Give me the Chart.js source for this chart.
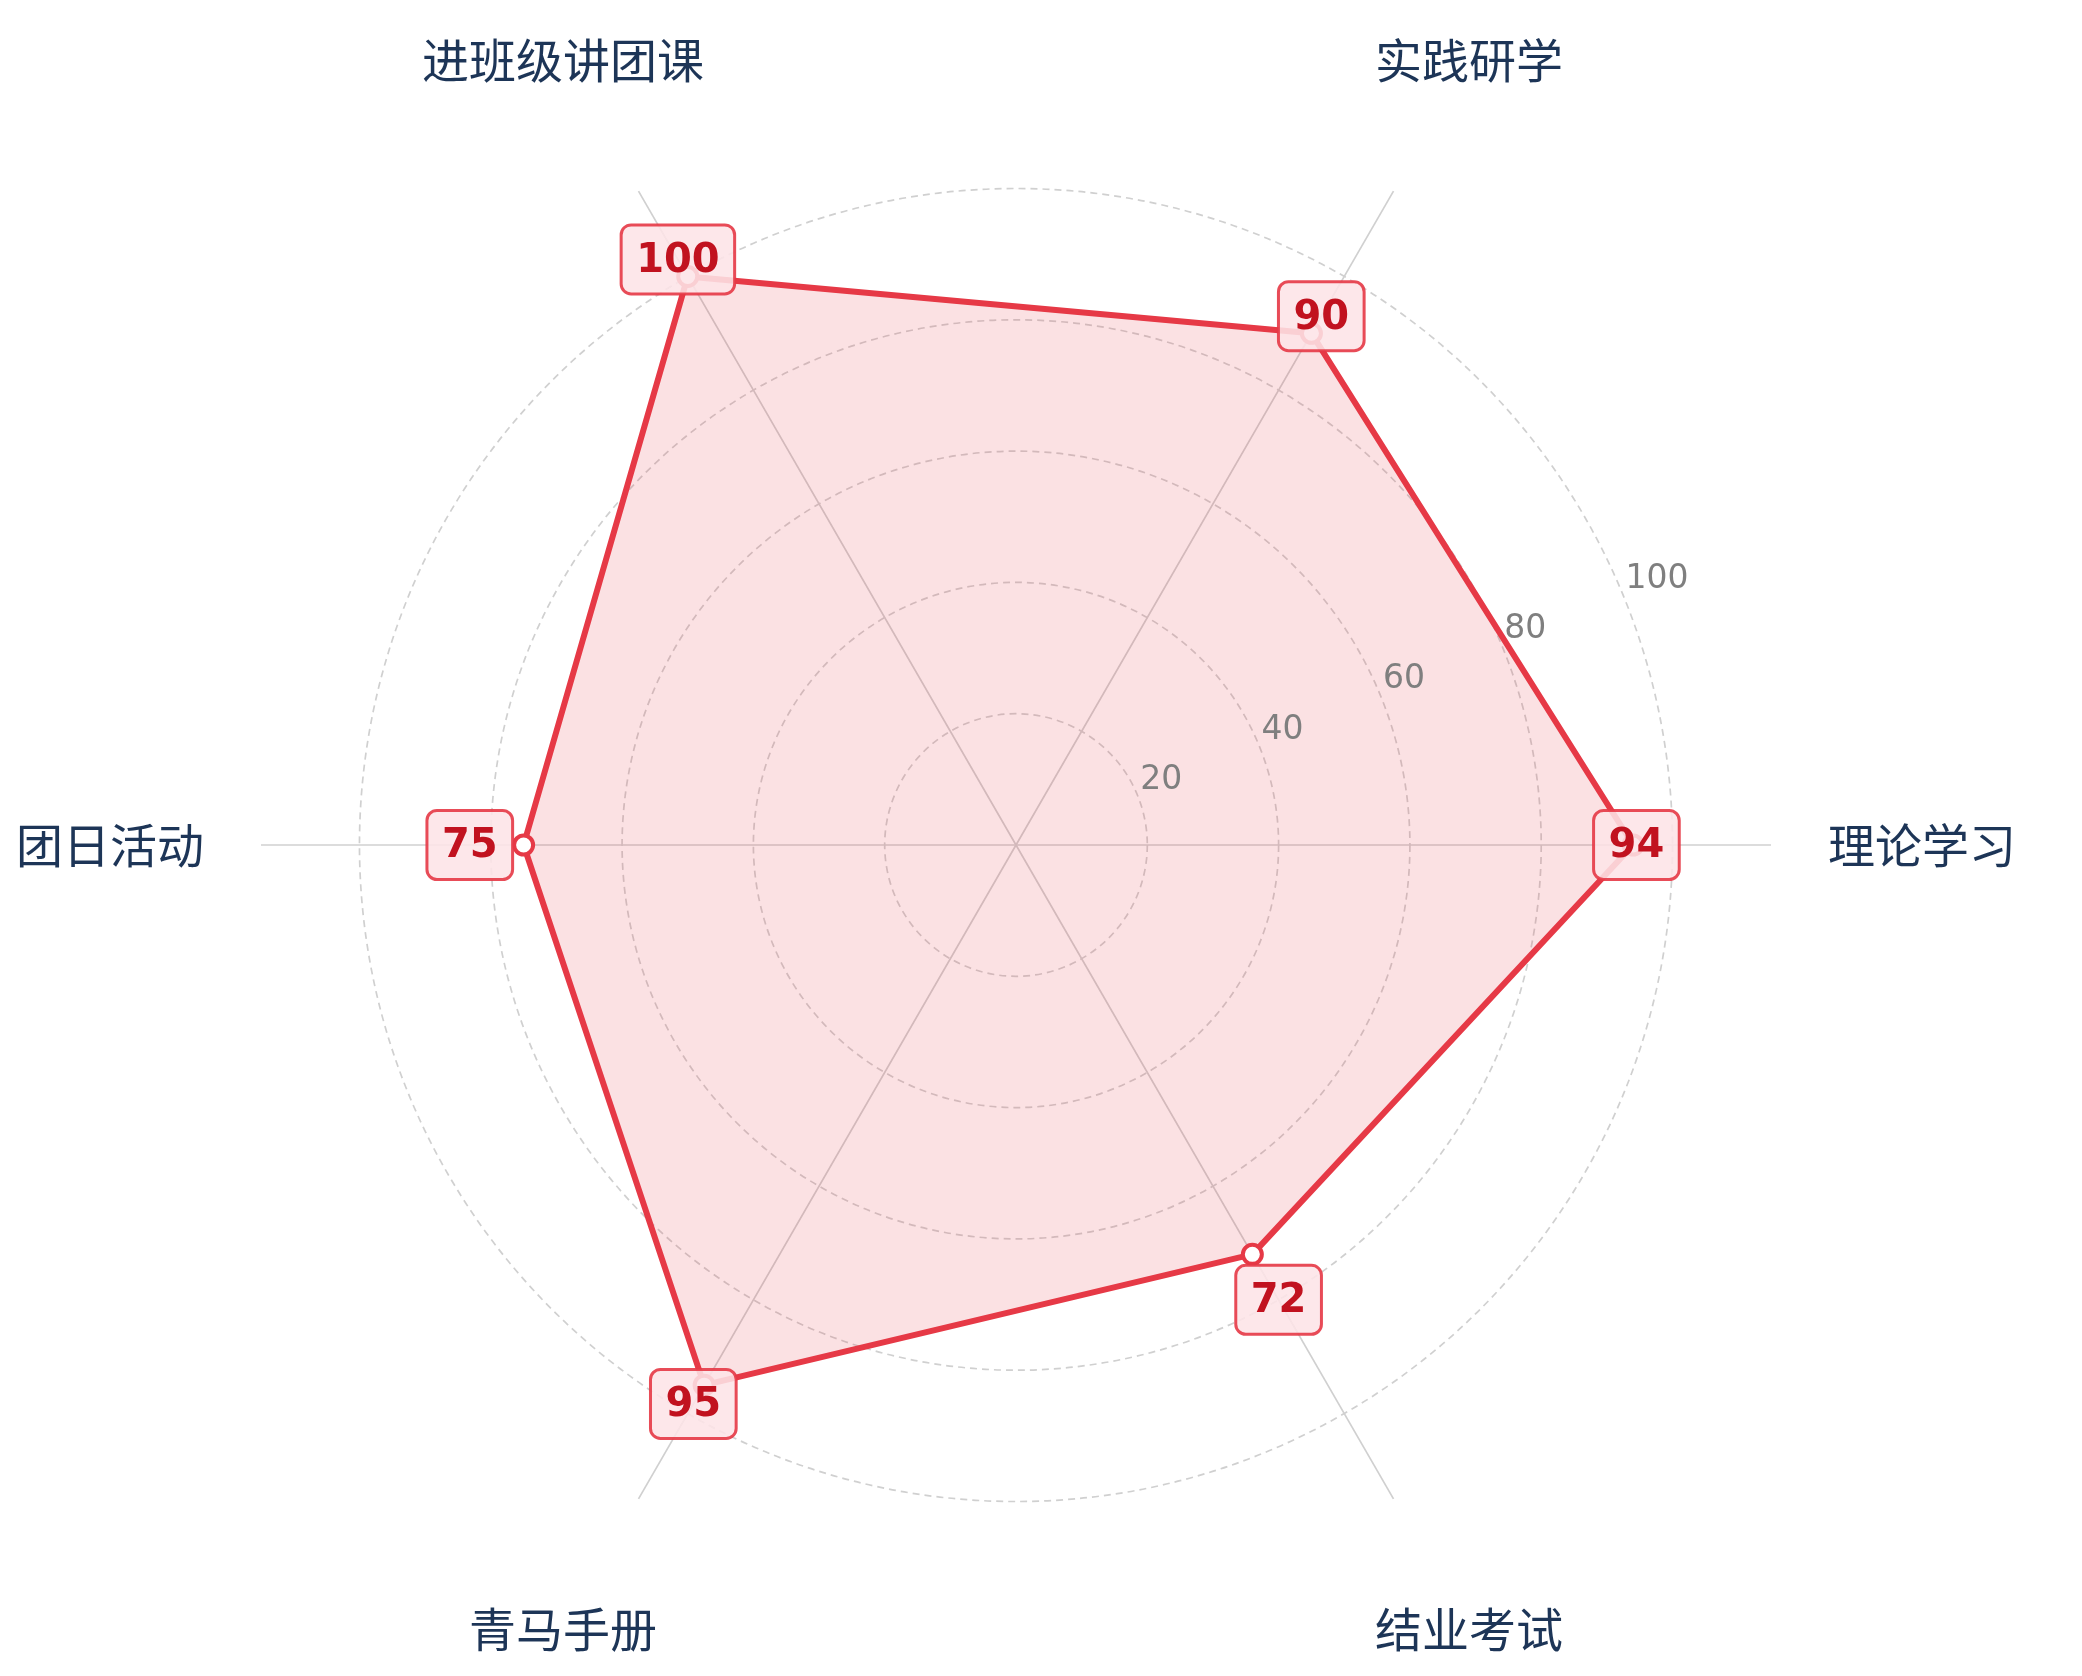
<!DOCTYPE html>
<html lang="zh-CN">
<head>
<meta charset="utf-8">
<title>雷达图</title>
<script src="https://cdn.jsdelivr.net/npm/chart.js@4/dist/chart.umd.min.js"></script>
<style>
  html, body { margin: 0; padding: 0; background: #ffffff; }
  #wrap { width: 2082px; height: 1676px; position: relative; }
</style>
</head>
<body>
<div id="wrap"><canvas id="radar"></canvas></div>
<script>
'use strict';

// categories listed clockwise starting from the right-hand spoke
const categories = ['理论学习', '结业考试', '青马手册', '团日活动', '进班级讲团课', '实践研学'];
const scores = [94, 72, 95, 75, 100, 90];
const tickLabels = [20, 40, 60, 80, 100];

const RED = '#e63946';
const NAVY = '#1d3557';

const radarLabels = {
    id: 'radarLabels',
    afterDatasetsDraw(chart, args, opts) {
        const scale = chart.scales.r;
        const ctx = chart.ctx;
        ctx.save();

        // radial tick labels, laid out along a 22.5° ray
        const a = opts.tickAngle * Math.PI / 180;
        ctx.font = '33px "DejaVu Sans", sans-serif';
        ctx.fillStyle = '#7f7f7f';
        ctx.textAlign = 'left';
        ctx.textBaseline = 'alphabetic';
        tickLabels.forEach(v => {
            const d = scale.getDistanceFromCenterForValue(v);
            ctx.fillText(String(v), scale.xCenter + d * Math.cos(a) + 3, scale.yCenter - d * Math.sin(a) - 6);
        });

        // category names around the outside
        ctx.font = '47px "Noto Sans CJK SC", sans-serif';
        ctx.fillStyle = NAVY;
        ctx.textAlign = 'center';
        ctx.textBaseline = 'middle';
        categories.forEach((name, i) => {
            const p = scale.getPointPositionForValue(i, opts.nameValue);
            ctx.fillText(name, p.x, p.y);
        });

        // value badges
        ctx.font = 'bold 40px "DejaVu Sans", sans-serif';
        scores.forEach((v, i) => {
            const p = scale.getPointPositionForValue(i, v + opts.push[i]);
            const txt = String(v);
            const w = ctx.measureText(txt).width + 30;
            const h = 69;
            ctx.beginPath();
            ctx.roundRect(p.x - w / 2, p.y - h / 2, w, h, 10);
            ctx.fillStyle = 'rgba(253, 228, 231, 0.88)';
            ctx.fill();
            ctx.lineWidth = 3;
            ctx.strokeStyle = 'rgba(230, 57, 70, 0.9)';
            ctx.stroke();
            ctx.fillStyle = '#c1121f';
            ctx.fillText(txt, p.x, p.y + 2);
        });

        ctx.restore();
    }
};

new Chart(document.getElementById('radar'), {
    type: 'radar',
    data: {
        labels: categories,
        datasets: [{
            data: scores,
            borderColor: RED,
            backgroundColor: 'rgba(230, 57, 70, 0.15)',
            borderWidth: 6,
            borderJoinStyle: 'round',
            fill: true,
            pointRadius: 9.5,
            pointHoverRadius: 9.5,
            pointBackgroundColor: '#ffffff',
            pointBorderColor: RED,
            pointBorderWidth: 4
        }]
    },
    options: {
        responsive: true,
        maintainAspectRatio: false,
        devicePixelRatio: 1,
        animation: false,
        events: [],
        layout: {
            padding: { left: 261, right: 311, top: 90, bottom: 76 }
        },
        scales: {
            r: {
                min: 0,
                max: 115,
                startAngle: 90,
                ticks: { display: false, stepSize: 20 },
                pointLabels: { display: false },
                angleLines: { color: '#d0d0d0', lineWidth: 1.7 },
                grid: {
                    circular: true,
                    lineWidth: 1.7,
                    borderDash: [7, 5],
                    color: (c) => (c.tick && c.tick.value <= 100) ? '#d0d0d0' : 'transparent'
                },
                border: { dash: [7, 5] }
            }
        },
        plugins: {
            legend: { display: false },
            tooltip: { enabled: false },
            radarLabels: {
                tickAngle: 22.5,
                nameValue: 138,
                push: [0.5, 8, 3.3, 8.2, 3, 3]
            }
        }
    },
    plugins: [radarLabels]
});
</script>
</body>
</html>
